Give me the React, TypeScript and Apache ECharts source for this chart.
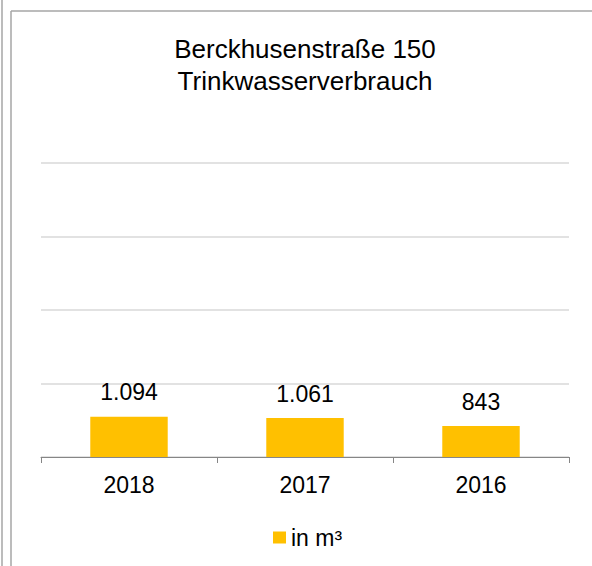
import React, { useEffect, useRef } from "react";
import * as echarts from "echarts";

const categories = ["2018", "2017", "2016"];
const values = [1094, 1061, 843];
const valueLabels = ["1.094", "1.061", "843"];
const seriesName = "in m³";
const titleText = "Berckhusenstraße 150\nTrinkwasserverbrauch";

const FONT = "'Liberation Sans', Arial, sans-serif";

export default function App() {
  const ref = useRef<HTMLDivElement>(null);
  useEffect(() => {
    if (!ref.current) return;
    const chart = echarts.init(ref.current, null, { renderer: "svg" });
    chart.setOption({
      animation: false,
      backgroundColor: "#ffffff",
      title: {
        text: titleText,
        left: 305,
        top: 33,
        padding: 0,
        textAlign: "center",
        textStyle: {
          fontFamily: FONT,
          fontSize: 26,
          lineHeight: 32,
          fontWeight: "normal",
          color: "#000",
        },
      },
      legend: {
        top: 521,
        left: 268,
        icon: "rect",
        itemWidth: 13,
        itemHeight: 12,
        itemGap: 10,
        textStyle: { fontFamily: FONT, fontSize: 23, color: "#000" },
        data: [seriesName],
      },
      grid: { left: 41, right: 23, top: 163, bottom: 109, containLabel: false },
      xAxis: {
        type: "category",
        data: categories,
        axisLine: { lineStyle: { color: "#868686", width: 1 } },
        axisTick: { show: true, length: 6, lineStyle: { color: "#868686" } },
        axisLabel: { fontFamily: FONT, fontSize: 23, color: "#000", margin: 16 },
      },
      yAxis: {
        type: "value",
        min: 0,
        max: 8000,
        interval: 2000,
        axisLabel: { show: false },
        axisLine: { show: false },
        axisTick: { show: false },
        splitLine: { lineStyle: { color: "#d9d9d9", width: 1.5 } },
      },
      series: [
        {
          name: seriesName,
          type: "bar",
          data: values,
          barCategoryGap: "56%",
          itemStyle: { color: "#FFC000" },
          label: {
            show: true,
            position: "top",
            distance: 13,
            fontFamily: FONT,
            fontSize: 23,
            color: "#000",
            formatter: (p: any) => valueLabels[p.dataIndex],
          },
        },
      ],
      graphic: [
        { type: "line", shape: { x1: 2, y1: 0, x2: 2, y2: 566 }, style: { stroke: "#a6a6a6", lineWidth: 1.5 } },
        { type: "line", shape: { x1: 11, y1: 11, x2: 11, y2: 566 }, style: { stroke: "#a6a6a6", lineWidth: 1.5 } },
        { type: "line", shape: { x1: 11, y1: 11, x2: 592, y2: 11 }, style: { stroke: "#a6a6a6", lineWidth: 1.5 } },
      ],
    });
    return () => chart.dispose();
  }, []);
  return (
    <div
      ref={ref}
      style={{ position: "fixed", left: 0, top: 0, width: 592, height: 566 }}
    />
  );
}
